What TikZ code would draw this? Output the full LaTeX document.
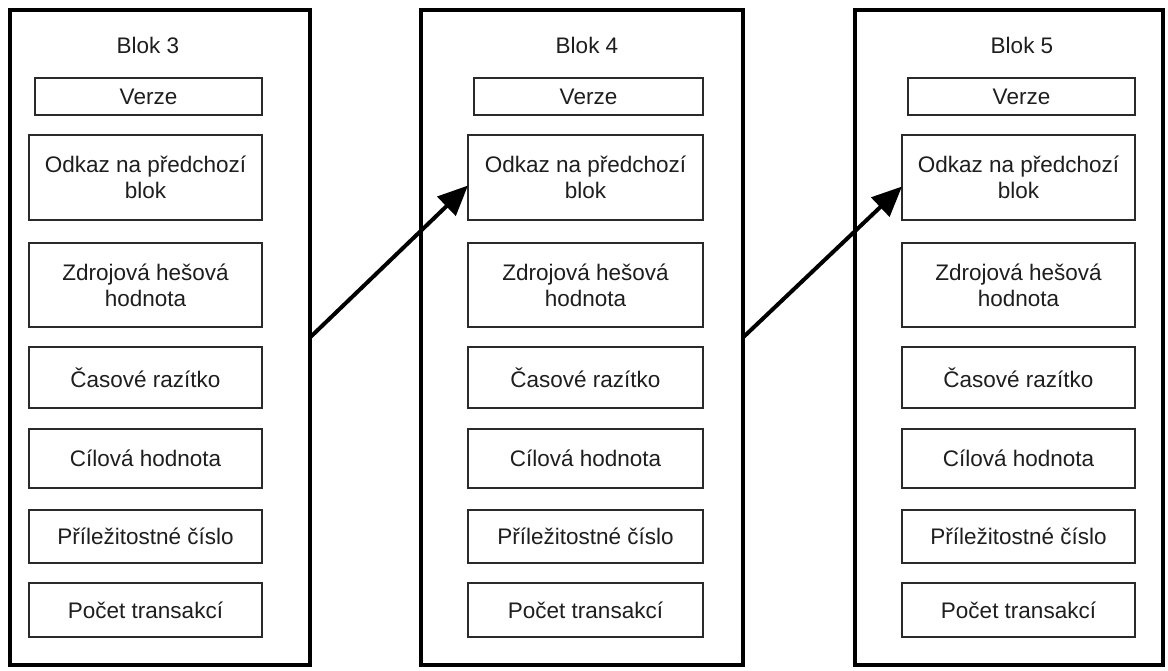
\documentclass[tikz,border=0pt]{standalone}
\usepackage{fontspec}
\setmainfont{Liberation Sans}
\usetikzlibrary{arrows.meta,calc}
\definecolor{txt}{HTML}{1E1E1E}
\definecolor{inb}{HTML}{2A2A2A}
\begin{document}
\begin{tikzpicture}[x=1pt,y=-1pt,
  outerbox/.style={draw=black,line width=4pt,rectangle,minimum width=#1,minimum height=655pt,inner sep=0pt,outer sep=0pt},
  field/.style={draw=inb,line width=1.6pt,rectangle,inner sep=0pt,outer sep=0pt,align=center,text=txt,font=\fontsize{22.5}{26}\selectfont},
  title/.style={text=txt,font=\fontsize{22.5}{26}\selectfont,inner sep=0pt},
  link/.style={line width=4pt,-{Triangle[length=30pt,width=26pt]}}]
\useasboundingbox (0,0) rectangle (1168,670);
\fill[white] (0,0) rectangle (1168,670);

% outer blocks
\node[outerbox=300pt] (blk3) at (160,337.5) {};
\node[outerbox=322pt] (blk4) at (582,337.5) {};
\node[outerbox=308pt] (blk5) at (1009,337.5) {};

% titles
\node[title] (t3) at (148,45) {Blok 3};
\node[title] (t4) at (587,45) {Blok 4};
\node[title] (t5) at (1022,45) {Blok 5};

% block 3 fields
\node[field,minimum width=227pt,minimum height=37pt] (ver3) at (148.5,96.5) {Verze};
\node[field,minimum width=233pt,minimum height=85pt] (odk3) at (145.5,177.5) {Odkaz na předchozí\\blok};
\node[field,minimum width=233pt,minimum height=84pt] (zdr3) at (145.5,285) {Zdrojová hešová\\hodnota};
\node[field,minimum width=233pt,minimum height=61pt] (cas3) at (145.5,377.5) {Časové razítko};
\node[field,minimum width=233pt,minimum height=59pt] (cil3) at (145.5,458.5) {Cílová hodnota};
\node[field,minimum width=233pt,minimum height=53pt] (pri3) at (145.5,536.5) {Příležitostné číslo};
\node[field,minimum width=233pt,minimum height=54pt] (poc3) at (145.5,610) {Počet transakcí};

% block 4 fields
\node[field,minimum width=229pt,minimum height=37pt] (ver4) at (588.5,96.5) {Verze};
\node[field,minimum width=235pt,minimum height=85pt] (odk4) at (585.5,177.5) {Odkaz na předchozí\\blok};
\node[field,minimum width=235pt,minimum height=84pt] (zdr4) at (585.5,285) {Zdrojová hešová\\hodnota};
\node[field,minimum width=235pt,minimum height=61pt] (cas4) at (585.5,377.5) {Časové razítko};
\node[field,minimum width=235pt,minimum height=59pt] (cil4) at (585.5,458.5) {Cílová hodnota};
\node[field,minimum width=235pt,minimum height=53pt] (pri4) at (585.5,536.5) {Příležitostné číslo};
\node[field,minimum width=235pt,minimum height=54pt] (poc4) at (585.5,610) {Počet transakcí};

% block 5 fields
\node[field,minimum width=227pt,minimum height=37pt] (ver5) at (1021.5,96.5) {Verze};
\node[field,minimum width=233pt,minimum height=85pt] (odk5) at (1018.5,177.5) {Odkaz na předchozí\\blok};
\node[field,minimum width=233pt,minimum height=84pt] (zdr5) at (1018.5,285) {Zdrojová hešová\\hodnota};
\node[field,minimum width=233pt,minimum height=61pt] (cas5) at (1018.5,377.5) {Časové razítko};
\node[field,minimum width=233pt,minimum height=59pt] (cil5) at (1018.5,458.5) {Cílová hodnota};
\node[field,minimum width=233pt,minimum height=53pt] (pri5) at (1018.5,536.5) {Příležitostné číslo};
\node[field,minimum width=233pt,minimum height=54pt] (poc5) at (1018.5,610) {Počet transakcí};

% links
\draw[link] (blk3.east) -- ($(odk4.west)+(0,8)$);
\draw[link] (blk4.east) -- ($(odk5.west)+(0,9)$);
\end{tikzpicture}
\end{document}
